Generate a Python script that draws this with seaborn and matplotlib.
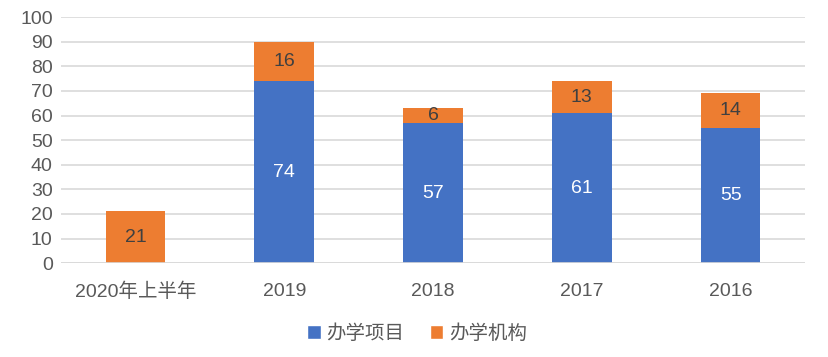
import matplotlib
matplotlib.use('Agg')
import matplotlib.pyplot as plt
import pandas as pd
import seaborn as sns
from matplotlib.patches import Patch

# data
categories = ['2020年上半年', '2019', '2018', '2017', '2016']
projects = [0, 74, 57, 61, 55]      # 办学项目
institutions = [21, 16, 6, 13, 14]  # 办学机构

sns.set_theme(style='white')
plt.rcParams['font.family'] = ['Liberation Sans', 'Noto Sans CJK SC']

df = pd.DataFrame({'cat': categories, 'proj': projects, 'inst': institutions})

blue = '#4472C4'
orange = '#ED7D31'
txt = '#595959'

fig = plt.figure(figsize=(8.29, 3.57), dpi=100)
ax = fig.add_axes([0.0736, 0.263, 0.8975, 0.689])

sns.barplot(data=df, x='cat', y='proj', color=blue, saturation=1, width=0.4,
            linewidth=0, ax=ax, zorder=3)
sns.barplot(data=df, x='cat', y='inst', color=orange, saturation=1, width=0.4,
            linewidth=0, bottom=df['proj'], ax=ax, zorder=3)

# labels in the middle of each segment
for i, (p, q) in enumerate(zip(projects, institutions)):
    if p > 0:
        ax.text(i, p / 2, str(p), ha='center', va='center', fontsize=14, color='white', zorder=5)
    ax.text(i, p + q / 2, str(q), ha='center', va='center', fontsize=14, color='#404040', zorder=5)

ax.set_ylim(0, 100)
ax.set_xlim(-0.5, 4.5)
ax.set_yticks(range(0, 101, 10))
ax.yaxis.grid(True, color='#d9d9d9', linewidth=1.2, zorder=0)
ax.set_axisbelow(True)
for s in ax.spines.values():
    s.set_visible(False)
ax.axhline(0, color='#d9d9d9', linewidth=1.2, zorder=4)
ax.set_xlabel('')
ax.set_ylabel('')
ax.tick_params(axis='both', length=0, labelsize=14, colors=txt)
ax.tick_params(axis='x', pad=14)
ax.tick_params(axis='y', pad=6)

handles = [Patch(facecolor=blue, label='办学项目'), Patch(facecolor=orange, label='办学机构')]
fig.legend(handles=handles, loc='center', bbox_to_anchor=(0.503, 0.065), ncol=2, frameon=False,
           fontsize=14, labelcolor=txt, handlelength=0.7, handleheight=0.7,
           handletextpad=0.3, columnspacing=1.3)

fig.savefig('out.png', dpi=100)
